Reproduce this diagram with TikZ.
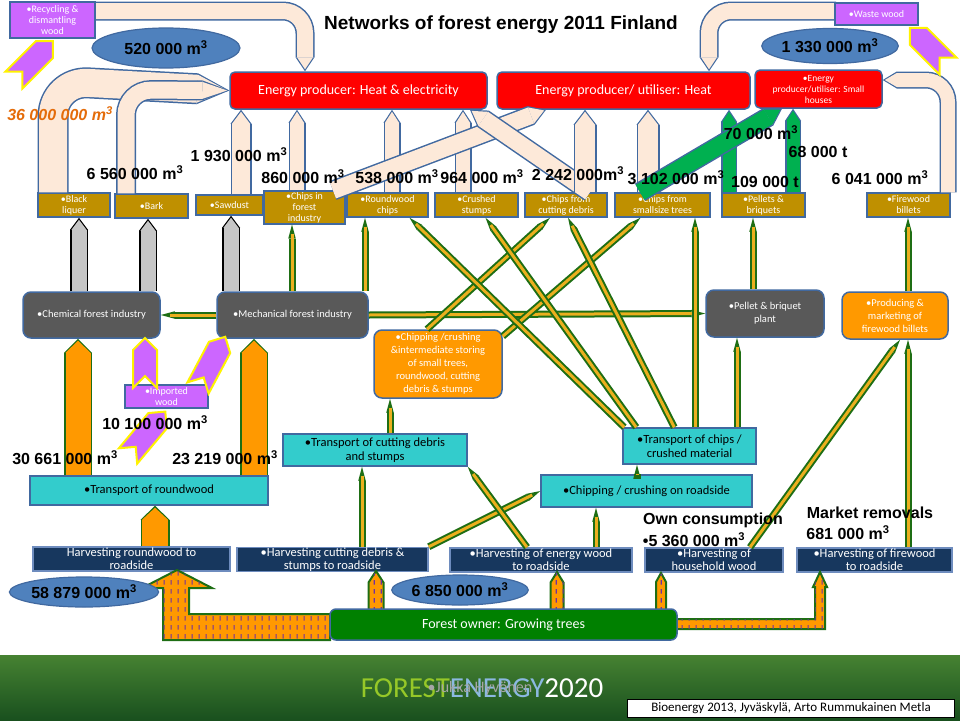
\documentclass[tikz,border=0pt]{standalone}
\usepackage{fontspec}
\setmainfont{Carlito}
\newfontfamily\arialf{Liberation Sans}
\usetikzlibrary{arrows.meta,shapes.geometric,patterns}

\definecolor{peach}{RGB}{253,233,217}
\definecolor{bord}{RGB}{65,105,160}
\definecolor{goldc}{RGB}{191,144,0}
\definecolor{purc}{RGB}{204,102,255}
\definecolor{ellc}{RGB}{79,129,189}
\definecolor{darkg}{RGB}{89,89,89}
\definecolor{orangec}{RGB}{255,153,0}
\definecolor{cyanc}{RGB}{51,204,204}
\definecolor{navyc}{RGB}{23,55,94}
\definecolor{navyb}{RGB}{110,140,190}
\definecolor{ownc}{RGB}{0,128,0}
\definecolor{greenar}{RGB}{0,176,80}
\definecolor{lineg}{RGB}{30,110,20}
\definecolor{liney}{RGB}{235,175,30}
\definecolor{numor}{RGB}{228,108,10}
\definecolor{dashp}{RGB}{112,48,160}
\definecolor{fgreen}{RGB}{150,200,40}
\definecolor{fblue}{RGB}{140,185,225}

% short vertical dashes on the orange harvesting arrows
\pgfdeclarepatternformonly{vdash}{\pgfpointorigin}{\pgfpoint{7pt}{9pt}}{\pgfpoint{7pt}{9pt}}{%
  \pgfsetlinewidth{1.2pt}
  \pgfpathmoveto{\pgfpoint{3.5pt}{1.5pt}}
  \pgfpathlineto{\pgfpoint{3.5pt}{6.5pt}}
  \pgfusepath{stroke}}

% block arrow: [opts]{width}{fill}{border}{head length}{path}
\newcommand{\blk}[6][]{%
  \pgfmathsetmacro{\blkOW}{#2+3}\pgfmathsetmacro{\blkOL}{#5+2}%
  \draw[#1, draw=#4, line width=\blkOW pt, -{Triangle[length=\blkOL pt, width=\blkOW pt, line width=0pt]}] #6;
  \draw[#1, draw=#3, line width=#2pt, shorten >=2pt, -{Triangle[length=#5pt, width=#2pt, line width=0pt]}] #6;}

% notched purple arrow: {tail x}{tail y}{angle}{length}{width}
\newcommand{\purp}[5]{%
  \draw[purpar, shift={(#1,#2)}, rotate=#3] (0,{-#5/2}) -- ({#4-#5/2},{-#5/2}) -- (#4,0)
    -- ({#4-#5/2},{#5/2}) -- (0,{#5/2}) -- ({#5/2},0) -- cycle;}

% small dashed harvesting arrow: {x}{bottom y}{tip y}{half width}
\newcommand{\dvup}[4]{%
  \draw[dashar] ({#1-#4},#2) -- ({#1-#4},{#3+#4+4}) -- (#1,#3) -- ({#1+#4},{#3+#4+4}) -- ({#1+#4},#2) -- cycle;}

\begin{document}
\begin{tikzpicture}[x=1pt,y=-1pt,
  box/.style={draw=bord, line width=1.5pt, align=center, inner sep=1pt},
  goldbox/.style={box, fill=goldc, text=white, font=\fontsize{10}{11}\selectfont, minimum height=24pt},
  redbox/.style={box, fill=red, text=white, rounded corners=5pt, minimum height=37pt},
  purbox/.style={box, fill=purc, text=white, font=\fontsize{10}{11}\selectfont},
  amount/.style={ellipse, draw=bord, line width=1.2pt, fill=ellc, inner sep=0pt,
    font=\arialf\bfseries\fontsize{16}{16}\selectfont},
  indbox/.style={box, fill=darkg, text=white, rounded corners=8pt, font=\fontsize{10.5}{13}\selectfont},
  orbox/.style={box, fill=orangec, text=white, rounded corners=8pt, font=\fontsize{10.5}{13}\selectfont},
  trbox/.style={box, fill=cyanc, font=\fontsize{12.5}{14}\selectfont},
  harbox/.style={box, draw=navyb, fill=navyc, text=white, inner sep=0pt, font=\fontsize{12.5}{13}\selectfont, minimum height=24pt},
  num/.style={inner sep=0pt, font=\arialf\bfseries\fontsize{16}{16}\selectfont},
  gyflow/.style={draw=lineg, line width=7pt, -{Triangle[length=14pt,width=7.5pt,line width=0pt]},
    postaction={draw=liney, line width=3pt, shorten >=9pt, -}},
  purpar/.style={fill=purc, draw=yellow, line width=2pt, line join=miter},
  dashar/.style={draw=lineg, line width=2pt, fill=orangec, postaction={pattern=vdash, pattern color=dashp}}]
\useasboundingbox (0,0) rectangle (960,720);

% bottom band
\shade[top color={rgb,255:red,70;green,130;blue,50}, bottom color={rgb,255:red,25;green,80;blue,30}] (0,655) rectangle (960,720);
\node[font=\fontsize{29}{29}\selectfont, inner sep=0pt] (logo) at (482,688) {\textcolor{fgreen}{FOREST}\textcolor{fblue}{ENERGY}\textcolor{white}{2020}};
\node[font=\fontsize{16}{16}\selectfont, text=gray!70, inner sep=0pt] (author) at (480,688) {•Jukka Hyvönen};
\node[draw=black, fill=white, line width=1pt, minimum width=327pt, minimum height=18pt, inner sep=0pt,
  font=\fontsize{13}{13}\selectfont] (src) at (791,708) {Bioenergy 2013, Jyväskylä, Arto Rummukainen Metla};

\node[font=\arialf\bfseries\fontsize{19}{19}\selectfont] (title) at (501,25) {Networks of forest energy 2011 Finland};

% products
\node[goldbox, minimum width=72pt] (bl) at (74,205) {•Black\\liquer};
\node[goldbox, minimum width=73pt] (bark) at (151.5,206) {•Bark};
\node[goldbox, minimum width=67pt, minimum height=20pt] (saw) at (229.5,205) {•Sawdust};
\node[goldbox, minimum width=81pt] (cif) at (304.5,207.5) {•Chips in\\forest\\industry};
\node[goldbox, minimum width=81pt] (rwc) at (387.5,205) {•Roundwood\\chips};
\node[goldbox, minimum width=83pt] (cst) at (476.5,205) {•Crushed\\stumps};
\node[goldbox, minimum width=82pt] (ccd) at (566,205) {•Chips from\\cutting debris};
\node[goldbox, minimum width=95pt] (css) at (662.5,205) {•Chips from\\smallsize trees};
\node[goldbox, minimum width=83pt] (pb) at (763.5,205) {•Pellets \&\\briquets};
\node[goldbox, minimum width=83pt] (fb) at (908.5,205) {•Firewood\\billets};

% energy producers
\node[redbox, minimum width=257pt, font=\fontsize{14}{16}\selectfont] (he) at (358.5,90.5) {Energy producer: Heat \& electricity};
\node[redbox, minimum width=253pt, font=\fontsize{14}{16}\selectfont] (heat) at (623.5,90.5) {Energy producer/ utiliser: Heat};
\node[redbox, minimum width=127pt, minimum height=38pt, font=\fontsize{9.5}{11}\selectfont] (sh) at (818.5,89) {•Energy\\producer/utiliser: Small\\houses};

% flows to the energy producers
\blk[rounded corners=35pt]{28}{peach}{bord}{30}{(53,0 |- bl.north) -- (53,81) -- (he.west)}
\blk[rounded corners=25pt]{17}{peach}{bord}{25}{(126,0 |- bark.north) -- (126,90) -- (he.west)}
\blk[rounded corners=22pt]{16}{peach}{bord}{12}{(95,11) -- (305,11) -- (305,0 |- he.north)}
\blk{18}{peach}{bord}{12}{(241,0 |- saw.north) -- (241,0 |- he.south)}
\blk{14}{peach}{bord}{11}{(297,0 |- cif.north) -- (297,0 |- he.south)}
\blk{14}{peach}{bord}{11}{(392,0 |- rwc.north) -- (392,0 |- he.south)}
\blk{14}{peach}{bord}{11}{(463,0 |- cst.north) -- (463,0 |- he.south)}
\blk{17}{peach}{bord}{14}{(333,0 |- cif.north) -- (546,0 |- heat.south)}
\blk{17}{peach}{bord}{14}{(590,0 |- ccd.north) -- (470,0 |- he.south)}
\blk{20}{peach}{bord}{13}{(585,0 |- ccd.north) -- (585,0 |- heat.south)}
\blk{20}{peach}{bord}{13}{(648,0 |- css.north) -- (648,0 |- heat.south)}
\blk[rounded corners=22pt]{16}{peach}{bord}{12}{(836,11) -- (709,11) -- (709,0 |- heat.north)}
\blk[rounded corners=22pt]{14}{peach}{bord}{12}{(948,0 |- fb.north) -- (948,80) -- (sh.east |- 0,80)}
\blk{13}{greenar}{bord}{10}{(729,0 |- pb.north) -- (729,0 |- heat.south)}
\blk{13}{greenar}{bord}{10}{(793,0 |- pb.north) -- (793,0 |- sh.south)}
\blk{17}{greenar}{bord}{14}{(640,0 |- css.north) -- (782,0 |- sh.south)}

% other wood sources
\node[purbox, minimum width=85pt, minimum height=36pt] (rec) at (52.5,20) {•Recycling \&\\dismantling\\wood};
\node[purbox, minimum width=83pt, minimum height=22pt] (waste) at (876.5,14) {•Waste wood};
\purp{14}{80}{45}{55}{24}
\purp{948}{66}{135}{54}{24}

\node[amount, minimum width=148pt, minimum height=40pt] (e520) at (166,48) {520 000 m\textsuperscript{3}};
\node[amount, minimum width=134pt, minimum height=35pt] (e1330) at (830,46) {1 330 000 m\textsuperscript{3}};

% industry
\node[indbox, minimum width=137pt, minimum height=46pt] (chem) at (91.5,315) {•Chemical forest industry};
\node[indbox, minimum width=151pt, minimum height=46pt] (mech) at (292.5,315) {•Mechanical forest industry};
\node[indbox, minimum width=118pt, minimum height=47pt] (pbp) at (765,313.5) {•Pellet \& briquet\\plant};
\node[orbox, minimum width=128pt, minimum height=68pt] (chip) at (438,364) {•Chipping /crushing\\\&intermediate storing\\of small trees,\\roundwood, cutting\\debris \& stumps};
\node[orbox, minimum width=106pt, minimum height=47pt] (fire) at (895,315.5) {•Producing \&\\marketing of\\firewood billets};

\blk{15}{gray!45}{black}{10}{(79,0 |- chem.north) -- (79,0 |- bl.south)}
\blk{15}{gray!45}{black}{10}{(148,0 |- chem.north) -- (148,0 |- bark.south)}
\blk{15}{gray!45}{black}{10}{(231,0 |- mech.north) -- (231,0 |- saw.south)}

% transport and harvesting
\node[trbox, minimum width=184pt, minimum height=32pt] (tcd) at (375,450) {•Transport of cutting debris\\and stumps};
\node[trbox, minimum width=133pt, minimum height=36pt] (tch) at (689.5,446) {•Transport of chips /\\crushed material};
\node[trbox, minimum width=238pt, minimum height=29pt] (trw) at (149,490.5) {•Transport of roundwood};
\node[trbox, minimum width=211pt, minimum height=32pt] (crs) at (646.5,491) {•Chipping / crushing on roadside};

\blk{25}{orangec}{lineg}{12}{(78,0 |- trw.north) -- (78,0 |- chem.south)}
\blk{25}{orangec}{lineg}{12}{(254,0 |- trw.north) -- (254,0 |- mech.south)}

\node[purbox, minimum width=83pt, minimum height=23pt] (imp) at (166.5,396.5) {•Imported\\wood};
\purp{145}{388}{90}{50}{24}
\purp{198}{388}{62}{58}{24}
\purp{128}{456}{50}{58}{24}

\node[harbox, minimum width=197pt] (hrw) at (131.5,559) {Harvesting roundwood to\\roadside};
\node[harbox, minimum width=191pt] (hcd) at (332.5,559.5) {•Harvesting cutting debris \&\\stumps to roadside};
\node[harbox, minimum width=182pt] (hew) at (541,560) {•Harvesting of energy wood\\to roadside};
\node[harbox, minimum width=138pt] (hhw) at (714,560) {•Harvesting of\\household wood};
\node[harbox, minimum width=155pt] (hfw) at (874.5,560) {•Harvesting of firewood\\to roadside};

\blk{26}{orangec}{lineg}{12}{(155,0 |- hrw.north) -- (155,0 |- trw.south)}

% chips and wood flows
\draw[gyflow] (292,0 |- mech.north) -- (292,0 |- cif.south);
\draw[gyflow] (365,0 |- mech.north) -- (365,0 |- rwc.south);
\draw[gyflow] (mech.west) -- (chem.east);
\draw[gyflow] (mech.east) -- (pbp.west);
\draw[gyflow] ([xshift=-11pt]chip.north) -- ([xshift=-16pt]ccd.south);
\draw[gyflow] ([yshift=-7pt]chip.north east) -- ([xshift=-22pt]css.south);
\draw[gyflow] ([xshift=2pt]tch.north west) -- ([xshift=22pt]rwc.south);
\draw[gyflow] ([xshift=14pt]tch.north west) -- ([xshift=9pt]cst.south);
\draw[gyflow] ([xshift=52pt]tch.north west) -- ([xshift=2pt]ccd.south);
\draw[gyflow] (695,0 |- tch.north) -- (695,0 |- css.south);
\draw[gyflow] (737,0 |- tch.north) -- (737,0 |- pbp.south);
\draw[gyflow] (753,0 |- pbp.north) -- (753,0 |- pb.south);
\draw[gyflow] (908,0 |- fire.north) -- (908,0 |- fb.south);
\draw[gyflow] (908,0 |- hfw.north) -- (908,0 |- fire.south);
\draw[gyflow] ([xshift=36pt]hhw.north) -- ([xshift=5pt]fire.south);
\draw[gyflow] (637,0 |- crs.north) -- (637,0 |- tch.south);
\draw[gyflow] (596,0 |- hew.north) -- (596,0 |- crs.south);
\draw[gyflow] (hcd.north east) -- (crs.west);
\draw[gyflow] ([xshift=-14pt]hew.north) -- (tcd.south east);
\draw[gyflow] (362,0 |- hcd.north) -- (362,0 |- tcd.south);
\draw[gyflow] (390,0 |- tcd.north) -- (390,0 |- chip.south);

% forest owner
\draw[dashar] (330,614) -- (189,614) -- (189,588) -- (212,588) -- (177,570) -- (142,588) -- (163,588)
  -- (163,640) -- (330,640) -- cycle;
\draw[dashar] (670,619) -- (815,619) -- (815,587) -- (813,587) -- (820,572) -- (827,587) -- (825,587)
  -- (825,629) -- (670,629) -- cycle;
\dvup{376}{612}{571}{7.5}
\dvup{557}{612}{572}{6.5}
\dvup{661}{612}{573}{5}
\node[box, fill=ownc, text=white, rounded corners=6pt, minimum width=347pt, minimum height=31pt,
  font=\fontsize{14}{16}\selectfont] (fo) at (503.5,624.5) {Forest owner: Growing trees};

\node[amount, minimum width=138pt, minimum height=30pt] (e58) at (84,592) {58 879 000 m\textsuperscript{3}};
\node[amount, minimum width=136pt, minimum height=30pt] (e68) at (460,590) {6 850 000 m\textsuperscript{3}};

% volumes
\node[num, text=numor, font=\arialf\bfseries\itshape\fontsize{16}{16}\selectfont] (v36) at (60,114) {36 000 000 m\textsuperscript{3}};
\node[num] (v656) at (135,173) {6 560 000 m\textsuperscript{3}};
\node[num] (v193) at (239,155) {1 930 000 m\textsuperscript{3}};
\node[num] (v860) at (303,177) {860 000 m\textsuperscript{3}};
\node[num] (v538) at (397,177) {538 000 m\textsuperscript{3}};
\node[num] (v964) at (482,177) {964 000 m\textsuperscript{3}};
\node[num] (v2242) at (578,174) {2 242 000m\textsuperscript{3}};
\node[num] (v3102) at (676,178) {3 102 000 m\textsuperscript{3}};
\node[num] (v70) at (761,133) {70 000 m\textsuperscript{3}};
\node[num] (v68) at (818,152) {68 000 t};
\node[num] (v109) at (765,182) {109 000 t};
\node[num] (v6041) at (880,178) {6 041 000 m\textsuperscript{3}};
\node[num] (v101) at (155,423) {10 100 000 m\textsuperscript{3}};
\node[num] (v306) at (65,458) {30 661 000 m\textsuperscript{3}};
\node[num] (v232) at (225,458) {23 219 000 m\textsuperscript{3}};
\node[num] (own) at (713,520) {Own consumption};
\node[num] (v536) at (694,540) {•5 360 000 m\textsuperscript{3}};
\node[num] (mkt) at (870,513) {Market removals};
\node[num] (v681) at (848,533) {681 000 m\textsuperscript{3}};
\end{tikzpicture}
\end{document}
